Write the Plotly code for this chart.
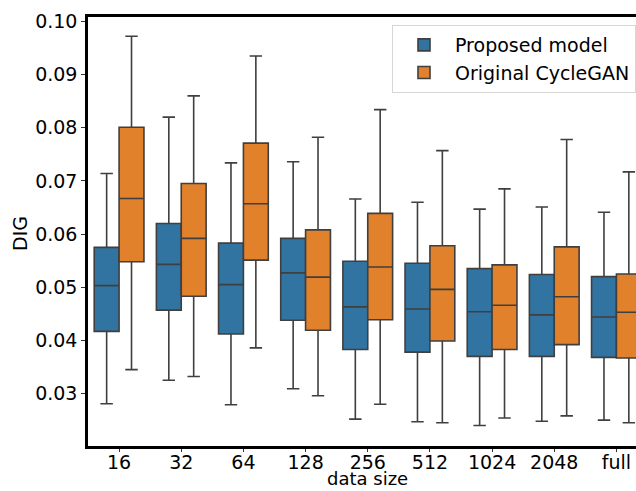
import plotly.graph_objects as go

categories = ["16", "32", "64", "128", "256", "512", "1024", "2048", "full"]

# Proposed model box statistics
prop_lower = [0.0281, 0.0325, 0.0279, 0.0309, 0.0252, 0.0247, 0.0240, 0.0248, 0.0250]
prop_q1 = [0.0417, 0.0457, 0.0412, 0.0438, 0.0383, 0.0378, 0.0370, 0.0370, 0.0368]
prop_median = [0.0503, 0.0543, 0.0505, 0.0527, 0.0463, 0.0459, 0.0454, 0.0448, 0.0444]
prop_q3 = [0.0575, 0.0620, 0.0583, 0.0592, 0.0549, 0.0545, 0.0535, 0.0524, 0.0520]
prop_upper = [0.0714, 0.0820, 0.0734, 0.0736, 0.0666, 0.0660, 0.0647, 0.0651, 0.0641]

# Original CycleGAN box statistics
orig_lower = [0.0345, 0.0332, 0.0386, 0.0296, 0.0280, 0.0245, 0.0254, 0.0258, 0.0245]
orig_q1 = [0.0548, 0.0483, 0.0551, 0.0419, 0.0439, 0.0399, 0.0383, 0.0392, 0.0367]
orig_median = [0.0667, 0.0592, 0.0657, 0.0519, 0.0538, 0.0496, 0.0466, 0.0482, 0.0453]
orig_q3 = [0.0801, 0.0695, 0.0771, 0.0608, 0.0639, 0.0578, 0.0542, 0.0576, 0.0525]
orig_upper = [0.0972, 0.0860, 0.0935, 0.0782, 0.0834, 0.0757, 0.0685, 0.0778, 0.0717]

y_ticks = [0.03, 0.04, 0.05, 0.06, 0.07, 0.08, 0.09, 0.10]

FONT = "DejaVu Sans"
FS = 19
EDGE = "#3f3f3f"

L, T, B = 88, 17, 45
W, H = 636, 491
PW, PH = W - L, H - T - B

fig = go.Figure()
fig.add_trace(go.Box(
    x=categories, q1=prop_q1, median=prop_median, q3=prop_q3,
    lowerfence=prop_lower, upperfence=prop_upper,
    name="Proposed model", fillcolor="#3274a1",
    line=dict(color=EDGE, width=1.6), boxpoints=False, whiskerwidth=0.5,
))
fig.add_trace(go.Box(
    x=categories, q1=orig_q1, median=orig_median, q3=orig_q3,
    lowerfence=orig_lower, upperfence=orig_upper,
    name="Original CycleGAN", fillcolor="#e1812c",
    line=dict(color=EDGE, width=1.6), boxpoints=False, whiskerwidth=0.5,
))

fig.update_layout(
    width=W, height=H,
    margin=dict(l=L, r=0, t=T, b=B, autoexpand=False),
    paper_bgcolor="white", plot_bgcolor="white",
    boxmode="group", boxgap=0.2, boxgroupgap=0.0,
    font=dict(family=FONT, size=FS, color="black"),
    showlegend=True,
    legend=dict(
        x=(392 - L) / PW, y=(T + PH - 25) / PH, xanchor="left", yanchor="top",
        bgcolor="white", bordercolor="#d6d6d6", borderwidth=1,
        font=dict(family=FONT, size=FS, color="black"),
        tracegroupgap=0, itemwidth=52,
    ),
    xaxis=dict(
        type="category", range=[-0.5, 8.315], automargin=False,
        showline=True, linecolor="black", linewidth=2.5, mirror=True,
        ticks="outside", ticklen=3, tickwidth=1, tickcolor="#333333",
        ticklabelstandoff=-6,
        showgrid=False, zeroline=False,
        tickfont=dict(family=FONT, size=FS, color="black"),
    ),
    yaxis=dict(
        range=[0.02014, 0.10083], automargin=False,
        tickvals=y_ticks, tickformat=".2f",
        showline=True, linecolor="black", linewidth=2.5, mirror=False,
        ticks="outside", ticklen=4, tickwidth=1, tickcolor="#333333",
        showgrid=False, zeroline=False,
        tickfont=dict(family=FONT, size=FS, color="black"),
    ),
    annotations=[
        dict(
            text="data size", xref="paper", yref="paper",
            x=(367 - L) / PW, y=-(490.5 - (T + PH)) / PH,
            xanchor="center", yanchor="bottom", showarrow=False,
            font=dict(family=FONT, size=18, color="black"),
        ),
        dict(
            text="DIG", xref="paper", yref="paper",
            x=(20 - L) / PW, y=(T + PH - 234) / PH,
            xanchor="center", yanchor="middle", showarrow=False, textangle=-90,
            font=dict(family=FONT, size=FS, color="black"),
        ),
    ],
)

fig.write_html(
    "out.html",
    config={"displayModeBar": False},
    post_script="document.body.style.margin='0';document.body.style.overflow='hidden';",
)
